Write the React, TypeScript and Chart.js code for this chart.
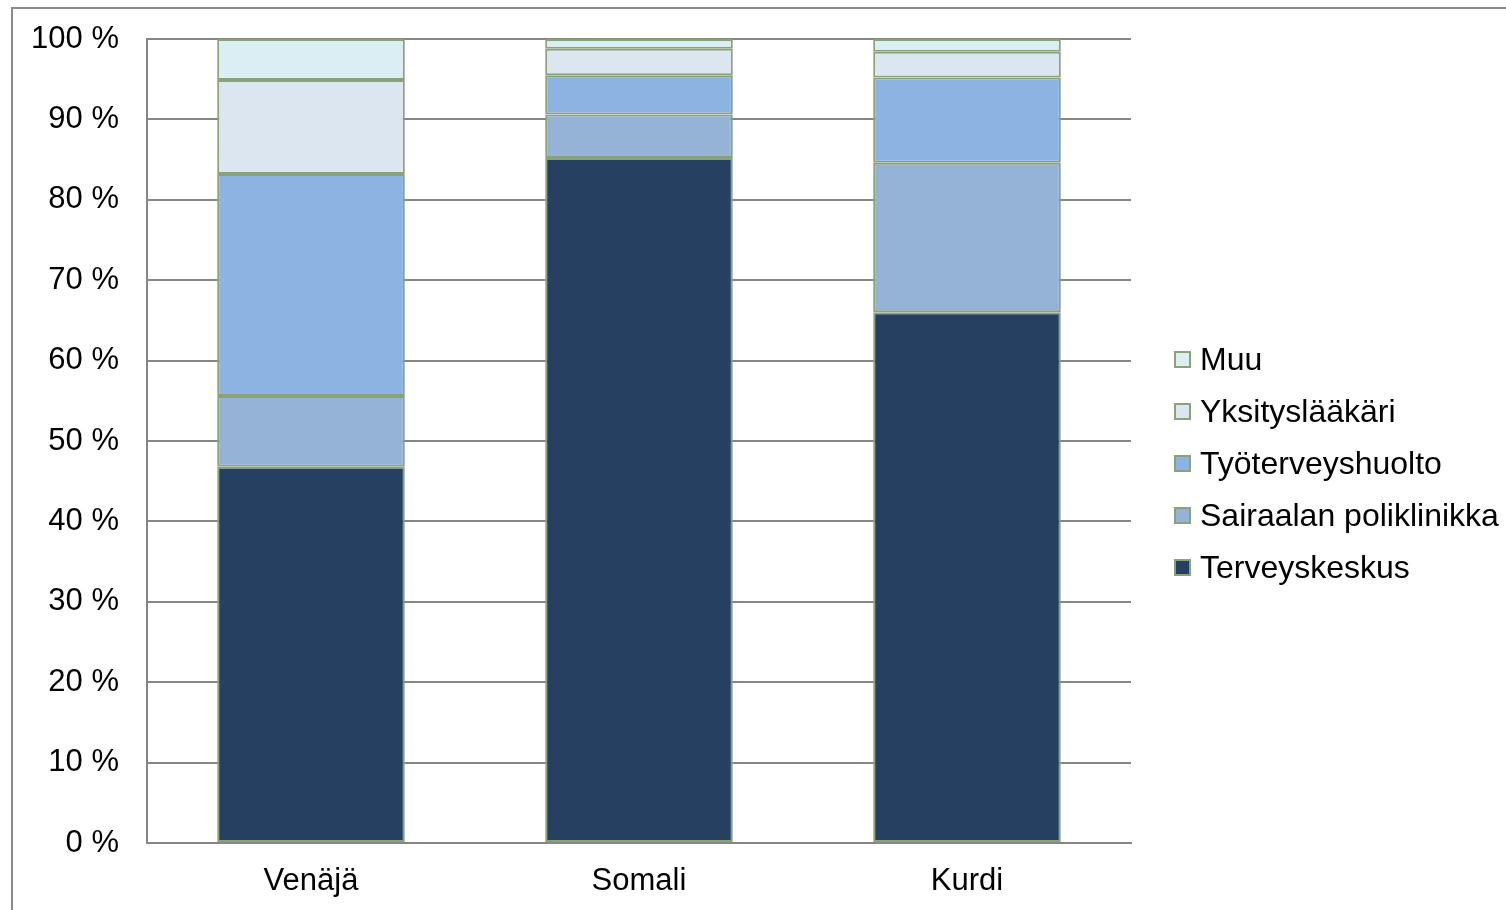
import React, { useEffect, useRef } from "react";
import { Chart, registerables } from "chart.js";

Chart.register(...registerables);

const categories = ["Venäjä", "Somali", "Kurdi"];
const seriesNames = ["Terveyskeskus", "Sairaalan poliklinikka", "Työterveyshuolto", "Yksityslääkäri", "Muu"];
const terveyskeskus = [46.8, 85.2, 66.0];
const sairaala = [8.8, 5.4, 18.6];
const tyoterveys = [27.6, 4.9, 10.6];
const yksityis = [11.7, 3.3, 3.2];
const muu = [5.1, 1.2, 1.6];
const seriesColors = ["#264061", "#95B3D7", "#8DB3E2", "#DCE6F1", "#DAEEF3"];
const yTicks = [0, 10, 20, 30, 40, 50, 60, 70, 80, 90, 100];

const BORDER = "#88A27A";
const FONT = "'Liberation Sans', Arial, sans-serif";

export default function App() {
  const ref = useRef<HTMLCanvasElement | null>(null);
  useEffect(() => {
    document.body.style.margin = "0";
    const values = [terveyskeskus, sairaala, tyoterveys, yksityis, muu];
    const chart = new Chart(ref.current!, {
      type: "bar",
      data: {
        labels: categories,
        datasets: seriesNames.map((name, i) => ({
          label: name,
          data: values[i],
          backgroundColor: seriesColors[i],
          borderColor: BORDER,
          borderWidth: 2,
          borderSkipped: false,
          barPercentage: 0.572,
          categoryPercentage: 1,
        })),
      },
      options: {
        animation: false,
        responsive: false,
        maintainAspectRatio: false,
        layout: { padding: { top: 39, right: 375, left: 0, bottom: 0 } },
        plugins: { legend: { display: false }, tooltip: { enabled: false } },
        scales: {
          x: {
            stacked: true,
            grid: { display: false, drawTicks: false },
            border: { display: true, color: "#868686", width: 2 },
            ticks: { color: "#000", font: { family: FONT, size: 31 }, padding: 20 },
            afterFit: (s: any) => { s.height = 67; s.paddingLeft = 0; s.paddingRight = 0; },
          },
          y: {
            stacked: true,
            min: 0,
            max: 100,
            afterBuildTicks: (s: any) => { s.ticks = yTicks.map((v) => ({ value: v })); },
            grid: { color: "#868686", lineWidth: 2, drawTicks: false },
            border: { display: true, color: "#868686", width: 2 },
            ticks: {
              color: "#000",
              font: { family: FONT, size: 31 },
              padding: 28,
              callback: (v: any) => `${v} %`,
            },
            afterFit: (s: any) => { s.width = 147; s.paddingTop = 0; s.paddingBottom = 0; },
          },
        },
      },
    });
    return () => chart.destroy();
  }, []);

  const legendOrder = [4, 3, 2, 1, 0];
  return (
    <div style={{ position: "relative", width: 1506, height: 910, overflow: "hidden", background: "#fff" }}>
      <div style={{ position: "absolute", left: 11, top: 7, width: 1600, height: 1000, border: "2px solid #8a8a8a" }} />
      <canvas ref={ref} width={1506} height={910} style={{ position: "absolute", left: 0, top: 0 }} />
      {legendOrder.map((idx, row) => (
        <div
          key={idx}
          style={{
            position: "absolute",
            left: 1174,
            top: 359 + row * 52 - 20,
            height: 40,
            display: "flex",
            alignItems: "center",
            fontFamily: FONT,
            fontSize: 32,
            color: "#000",
            whiteSpace: "nowrap",
          }}
        >
          <span
            style={{
              display: "inline-block",
              width: 13,
              height: 13,
              background: seriesColors[idx],
              border: `2px solid ${BORDER}`,
              marginRight: 9,
            }}
          />
          {seriesNames[idx]}
        </div>
      ))}
    </div>
  );
}
